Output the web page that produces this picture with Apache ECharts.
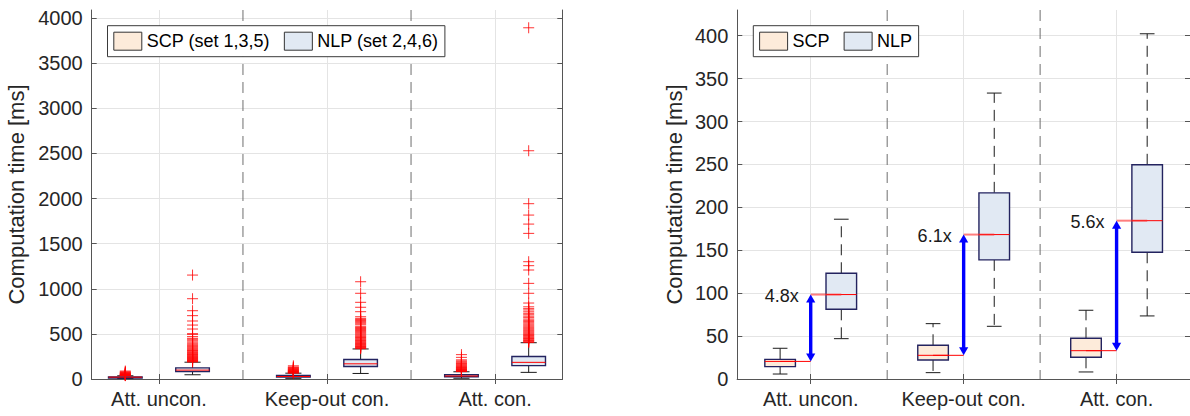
<!DOCTYPE html>
<html>
<head>
<meta charset="utf-8">
<script src="https://cdn.jsdelivr.net/npm/echarts@6/dist/echarts.min.js"></script>
<style>
  html, body { margin: 0; padding: 0; background: #ffffff; }
  #chart { width: 1190px; height: 416px; }
</style>
</head>
<body>
<div id="chart"></div>
<script>
// ---- data -------------------------------------------------------------
const groups = ['Att. uncon.', 'Keep-out con.', 'Att. con.'];
const legendLeft = ['SCP (set 1,3,5)', 'NLP (set 2,4,6)'];
const legendRight = ['SCP', 'NLP'];

// box statistics per group: [lower whisker, Q1, median, Q3, upper whisker] in ms
const scpStats = [
  [5.8, 14.4, 20.5, 22.9, 35.8],
  [7.4, 22.2, 27.6, 39.3, 64.5],
  [8.2, 25.3, 33.0, 47.4, 80.1]
];
const nlpStats = [
  [47.0, 81.2, 98.4, 123.2, 186.2],
  [61.4, 138.8, 168.3, 216.9, 333.2],
  [73.5, 147.7, 184.5, 249.6, 402.3]
];
const speedups = ['4.8x', '6.1x', '5.6x'];

// outliers (ms)
const scpOutliers = [
  [37, 39, 41, 43, 45, 48, 50, 53, 56, 60, 64, 68, 73, 80, 88],
  [66, 68, 71, 74, 77, 80, 83, 87, 91, 95, 99, 104, 109, 114, 120, 126, 133, 146],
  [82, 85, 88, 92, 96, 100, 105, 110, 115, 121, 127, 133, 140, 147, 155, 163, 171, 180, 190, 200, 212, 240, 270]
];
const nlpOutliers = [
  [189, 193, 198, 203, 207, 212, 218, 223, 229, 234, 240, 246, 252, 258, 265, 271, 278, 285, 292, 300,
   308, 316, 324, 333, 342, 352, 362, 373, 385, 397, 410, 424, 440, 451, 470, 495, 502, 554, 598, 643,
   702, 757, 890, 1152],
  [336, 342, 348, 354, 360, 367, 374, 381, 388, 395, 402, 410, 418, 426, 434, 442, 451, 460, 469, 478,
   488, 498, 508, 518, 528, 538, 549, 560, 570, 580, 600, 612, 624, 636, 648, 660, 672, 690, 746, 795,
   850, 950, 1078],
  [405, 412, 419, 426, 433, 441, 449, 457, 465, 474, 483, 492, 501, 511, 521, 531, 541, 552, 563, 574,
   586, 598, 610, 623, 636, 650, 664, 680, 696, 712, 728, 745, 765, 780, 800, 842, 950, 1060, 1208, 1256,
   1300, 1614, 1717, 1817, 1943, 2530, 3893]
];

const groupPos = [1, 2, 3];
const separatorPos = [1.5, 2.5];
const leftYTicks = [0, 500, 1000, 1500, 2000, 2500, 3000, 3500, 4000];
const rightYTicks = [0, 50, 100, 150, 200, 250, 300, 350, 400];

// ---- styling ----------------------------------------------------------
const FONT = '"Liberation Sans", Arial, Helvetica, sans-serif';
const AXIS_COLOR = '#555555';
const GRID_COLOR = '#e4e4e4';
const TEXT_COLOR = '#262626';
const SCP_FILL = '#fdebda';
const NLP_FILL = '#e1e9f3';
const BOX_EDGE = '#23235f';
const BOX_W = 0.2;     // box width in axis units
const OFFSET = 0.2;    // distance of each box from the group centre

// ---- helpers ----------------------------------------------------------
function boxData(stats, sign) {
  return stats.map((s, i) => [groupPos[i] + sign * OFFSET].concat(s));
}
function outlierData(list, sign) {
  const out = [];
  list.forEach((vals, i) => vals.forEach(v => out.push([groupPos[i] + sign * OFFSET, v])));
  return out;
}

function renderBox(params, api) {
  const x = api.value(0);
  const lo = api.coord([x, api.value(1)]);
  const q1 = api.coord([x, api.value(2)]);
  const md = api.coord([x, api.value(3)]);
  const q3 = api.coord([x, api.value(4)]);
  const hi = api.coord([x, api.value(5)]);
  const half = api.size([BOX_W, 0])[0] / 2;
  const cap = half * 0.48;
  const cx = lo[0];
  const dash = { stroke: '#1a1a1a', lineWidth: 1, lineDash: [11, 7] };
  const solid = { stroke: '#1a1a1a', lineWidth: 1 };
  return {
    type: 'group',
    children: [
      { type: 'line', shape: { x1: cx, y1: q3[1], x2: cx, y2: hi[1] }, style: dash },
      { type: 'line', shape: { x1: cx, y1: q1[1], x2: cx, y2: lo[1] }, style: dash },
      { type: 'line', shape: { x1: cx - cap, y1: hi[1], x2: cx + cap, y2: hi[1] }, style: solid },
      { type: 'line', shape: { x1: cx - cap, y1: lo[1], x2: cx + cap, y2: lo[1] }, style: solid },
      {
        type: 'rect',
        shape: { x: cx - half, y: q3[1], width: half * 2, height: Math.max(q1[1] - q3[1], 1) },
        style: { fill: api.visual('color'), stroke: BOX_EDGE, lineWidth: 1.4 }
      },
      { type: 'line', shape: { x1: cx - half, y1: md[1], x2: cx + half, y2: md[1] },
        style: { stroke: '#ff0000', lineWidth: 1 } }
    ]
  };
}

function renderPlus(params, api) {
  const p = api.coord([api.value(0), api.value(1)]);
  const r = 5.5;
  const st = { stroke: 'rgba(255,0,0,0.8)', lineWidth: 1 };
  return {
    type: 'group',
    children: [
      { type: 'line', shape: { x1: p[0] - r, y1: p[1], x2: p[0] + r, y2: p[1] }, style: st },
      { type: 'line', shape: { x1: p[0], y1: p[1] - r, x2: p[0], y2: p[1] + r }, style: st }
    ]
  };
}

function renderSeparator(params, api) {
  const cs = params.coordSys;
  const x = api.coord([api.value(0), 0])[0];
  return {
    type: 'line',
    shape: { x1: x, y1: cs.y, x2: x, y2: cs.y + cs.height },
    style: { stroke: '#6e6e6e', lineWidth: 1, lineDash: [11, 7] }
  };
}

function renderArrow(params, api) {
  const c = api.value(0);
  const ps = api.coord([c, api.value(1)]);
  const pn = api.coord([c, api.value(2)]);
  const scpBox = api.coord([c - OFFSET, api.value(1)]);
  const nlpBox = api.coord([c + OFFSET, api.value(2)]);
  const cx = ps[0];
  const head = 8, hw = 4.6;
  const blue = '#0000ff';
  return {
    type: 'group',
    children: [
      { type: 'line', shape: { x1: scpBox[0], y1: ps[1], x2: cx, y2: ps[1] },
        style: { stroke: '#ff0000', lineWidth: 1 } },
      { type: 'line', shape: { x1: cx, y1: pn[1], x2: nlpBox[0], y2: pn[1] },
        style: { stroke: 'rgba(255,40,40,0.6)', lineWidth: 2 } },
      { type: 'line', shape: { x1: cx, y1: pn[1] + head - 1, x2: cx, y2: ps[1] - head + 1 },
        style: { stroke: blue, lineWidth: 3.4 } },
      { type: 'polygon', shape: { points: [[cx, pn[1]], [cx - hw, pn[1] + head], [cx + hw, pn[1] + head]] },
        style: { fill: blue } },
      { type: 'polygon', shape: { points: [[cx, ps[1]], [cx - hw, ps[1] - head], [cx + hw, ps[1] - head]] },
        style: { fill: blue } },
      { type: 'text', x: cx - 12, y: pn[1] + 1,
        style: { text: speedups[params.dataIndex], fill: '#1a1a1a', font: '18px ' + FONT,
                 align: 'right', verticalAlign: 'middle' } }
    ]
  };
}

function xAxesFor(gridIndex, min, max) {
  return [
    {
      type: 'value', gridIndex, min, max, position: 'bottom',
      axisLine: { show: true, lineStyle: { color: AXIS_COLOR, width: 1.2 } },
      axisTick: { show: true, inside: true, length: 5, customValues: groupPos, lineStyle: { color: AXIS_COLOR } },
      axisLabel: { customValues: groupPos, formatter: v => groups[Math.round(v) - 1],
                   fontFamily: FONT, fontSize: 20, color: TEXT_COLOR, margin: 10 },
      splitLine: { show: true, lineStyle: { color: GRID_COLOR, width: 1 } }
    },
    {
      type: 'value', gridIndex, min, max, position: 'top',
      axisLine: { show: true, lineStyle: { color: AXIS_COLOR, width: 1 } },
      axisTick: { show: true, inside: true, length: 5, customValues: groupPos, lineStyle: { color: AXIS_COLOR } },
      axisLabel: { show: false },
      splitLine: { show: false }
    }
  ];
}

function yAxesFor(gridIndex, max, ticks, nameGap) {
  return [
    {
      type: 'value', gridIndex, min: 0, max, position: 'left',
      name: 'Computation time [ms]', nameLocation: 'middle', nameGap,
      nameTextStyle: { fontFamily: FONT, fontSize: 22, color: TEXT_COLOR },
      axisLine: { show: true, lineStyle: { color: AXIS_COLOR, width: 1 } },
      axisTick: { show: true, inside: true, length: 5, customValues: ticks, lineStyle: { color: AXIS_COLOR } },
      axisLabel: { customValues: ticks, formatter: v => String(v),
                   fontFamily: FONT, fontSize: 20, color: TEXT_COLOR, margin: 9 },
      splitLine: { show: true, lineStyle: { color: GRID_COLOR, width: 1 } }
    },
    {
      type: 'value', gridIndex, min: 0, max, position: 'right',
      axisLine: { show: true, lineStyle: { color: AXIS_COLOR, width: 1 } },
      axisTick: { show: true, inside: true, length: 5, customValues: ticks, lineStyle: { color: AXIS_COLOR } },
      axisLabel: { show: false },
      splitLine: { show: false }
    }
  ];
}

function legendFor(left, names) {
  return {
    left, top: 25.7, orient: 'horizontal', icon: 'rect', selectedMode: false,
    padding: [6, 6.5, 6, 5.8], itemWidth: 28, itemHeight: 18, itemGap: 14,
    borderColor: '#3a3a3a', borderWidth: 1, backgroundColor: '#ffffff',
    textStyle: { fontFamily: FONT, fontSize: 18, color: '#000000', lineHeight: 18 },
    data: [
      { name: names[0], itemStyle: { color: SCP_FILL, borderColor: '#333333', borderWidth: 1 } },
      { name: names[1], itemStyle: { color: NLP_FILL, borderColor: '#333333', borderWidth: 1 } }
    ]
  };
}

// ---- chart ------------------------------------------------------------
const chart = echarts.init(document.getElementById('chart'), null, { renderer: 'svg' });

const leftX = xAxesFor(0, 0.6, 3.4);
const rightX = xAxesFor(1, 0.52, 3.48);
const leftY = yAxesFor(0, 4090, leftYTicks, 64);
const rightY = yAxesFor(1, 430, rightYTicks, 52);

const series = [];
function addPanel(xIdx, yIdx, names, withOutliers, withArrows) {
  series.push({
    type: 'custom', name: '_sep' + xIdx, xAxisIndex: xIdx, yAxisIndex: yIdx, silent: true, z: 1,
    renderItem: renderSeparator, data: separatorPos.map(v => [v])
  });
  series.push({
    type: 'custom', name: names[0], xAxisIndex: xIdx, yAxisIndex: yIdx, z: 2,
    itemStyle: { color: SCP_FILL }, renderItem: renderBox,
    encode: { x: 0, y: [1, 2, 3, 4, 5] }, data: boxData(scpStats, -1)
  });
  series.push({
    type: 'custom', name: names[1], xAxisIndex: xIdx, yAxisIndex: yIdx, z: 2,
    itemStyle: { color: NLP_FILL }, renderItem: renderBox,
    encode: { x: 0, y: [1, 2, 3, 4, 5] }, data: boxData(nlpStats, 1)
  });
  if (withArrows) {
    series.push({
      type: 'custom', name: '_ratio', xAxisIndex: xIdx, yAxisIndex: yIdx, z: 3, silent: true,
      renderItem: renderArrow, encode: { x: 0, y: [1, 2] },
      data: groupPos.map((g, i) => [g, scpStats[i][2], nlpStats[i][2]])
    });
  }
  if (withOutliers) {
    series.push({
      type: 'custom', name: '_outSCP', xAxisIndex: xIdx, yAxisIndex: yIdx, z: 4, silent: true,
      renderItem: renderPlus, data: outlierData(scpOutliers, -1)
    });
    series.push({
      type: 'custom', name: '_outNLP', xAxisIndex: xIdx, yAxisIndex: yIdx, z: 4, silent: true,
      renderItem: renderPlus, data: outlierData(nlpOutliers, 1)
    });
  }
}
addPanel(0, 0, legendLeft, true, false);
addPanel(2, 2, legendRight, false, true);

chart.setOption({
  animation: false,
  backgroundColor: '#ffffff',
  grid: [
    { left: 91.7, top: 10, width: 470.6, height: 369 },
    { left: 737.3, top: 10, width: 460.3, height: 369 }
  ],
  xAxis: leftX.concat(rightX),
  yAxis: leftY.concat(rightY),
  legend: [legendFor(107.5, legendLeft), legendFor(753.3, legendRight)],
  series
});
</script>
</body>
</html>
